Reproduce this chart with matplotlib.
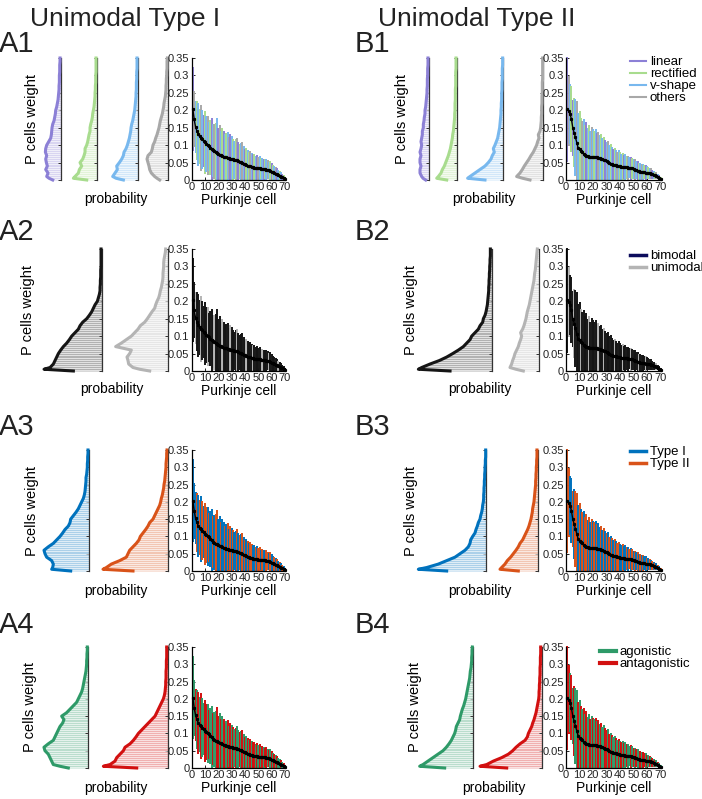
import numpy as np
import matplotlib
matplotlib.use("Agg")
import matplotlib.pyplot as plt
from matplotlib.lines import Line2D
from matplotlib.ticker import FormatStrFormatter

plt.rcParams['font.family'] = ['Liberation Sans', 'DejaVu Sans']

# ---- data -------------------------------------------------------------
# weight bins of the probability histograms (P cells weight)
weight_bins = np.concatenate([[0.0, 0.005], np.arange(1, 36) / 100])

# histogram probabilities (x 1e-3), one value per weight bin
hist_A1_linear = [24, 35, 42, 38, 45, 40, 43, 45, 42, 46, 45, 42, 36, 30, 28, 27, 26, 24, 20, 18, 16, 15, 12,
                  10, 8, 7, 6, 5, 5, 4, 4, 4, 3, 3, 3, 2, 2]
hist_A1_rectified = [30, 70, 65, 55, 52, 45, 50, 42, 38, 35, 35, 30, 27, 25, 23, 20, 20, 18, 15, 13, 12, 10, 8,
                     7, 6, 5, 5, 4, 4, 3, 3, 3, 2, 2, 2, 2, 2]
hist_A1_vshape = [43, 65, 75, 68, 61, 63, 55, 48, 43, 41, 35, 31, 28, 25, 23, 21, 20, 18, 15, 13, 11, 9, 8,
                  7, 6, 5, 5, 4, 4, 4, 3, 3, 3, 2, 2, 2, 2]
hist_A1_others = [25, 33, 40, 50, 55, 57, 60, 63, 60, 50, 47, 45, 40, 37, 33, 30, 27, 25, 23, 20, 17, 15, 13,
                  12, 10, 8, 7, 6, 6, 5, 5, 4, 4, 3, 3, 3, 2]
hist_A2_bimodal = [85, 173, 155, 145, 140, 135, 130, 123, 115, 105, 97, 90, 80, 70, 65, 57, 45, 37, 30, 25, 20, 13, 10,
                   7, 5, 5, 4, 4, 3, 3, 3, 2, 2, 2, 2, 2, 2]
hist_A2_unimodal = [55, 85, 105, 118, 120, 123, 115, 110, 157, 140, 125, 110, 100, 90, 83, 70, 62, 55, 48, 40, 37, 33, 28,
                    25, 23, 20, 18, 16, 15, 15, 14, 13, 13, 12, 10, 8, 7]
hist_A3_type1 = [55, 112, 109, 107, 112, 127, 132, 135, 122, 107, 97, 87, 79, 72, 62, 57, 55, 47, 39, 32, 27, 22, 17,
                 14, 12, 11, 10, 9, 9, 7, 6, 5, 5, 4, 4, 3, 3]
hist_A3_type2 = [105, 195, 185, 170, 145, 125, 120, 115, 105, 95, 87, 83, 75, 67, 60, 55, 45, 40, 35, 30, 25, 22, 20,
                 17, 15, 13, 12, 10, 9, 8, 7, 6, 6, 5, 4, 4, 3]
hist_A4_agon = [60, 85, 105, 110, 115, 120, 130, 133, 120, 105, 100, 95, 90, 85, 77, 73, 80, 65, 55, 45, 35, 30, 25,
                20, 17, 15, 13, 11, 9, 7, 6, 5, 5, 4, 4, 3, 3]
hist_A4_antag = [93, 193, 173, 158, 153, 143, 133, 128, 113, 103, 95, 88, 78, 68, 58, 48, 38, 33, 28, 23, 18, 13, 10,
                 8, 7, 6, 6, 5, 5, 5, 4, 4, 4, 3, 3, 3, 3]

hist_B1_linear = [10, 18, 22, 27, 27, 24, 27, 27, 24, 27, 24, 22, 24, 22, 20, 20, 17, 17, 15, 14, 12, 12, 10,
                  9, 8, 7, 6, 6, 5, 5, 5, 4, 4, 4, 3, 3, 3]
hist_B1_rectified = [30, 60, 55, 47, 43, 37, 33, 29, 25, 22, 19, 17, 15, 13, 12, 10, 9, 8, 7, 6, 6, 5, 5,
                     5, 4, 4, 4, 4, 3, 3, 3, 3, 3, 2, 2, 2, 2]
hist_B1_vshape = [55, 107, 100, 85, 70, 55, 45, 37, 33, 27, 30, 25, 21, 17, 15, 13, 11, 10, 9, 8, 7, 7, 6,
                  6, 5, 5, 5, 4, 4, 4, 3, 3, 3, 3, 2, 2, 2]
hist_B1_others = [40, 62, 80, 70, 63, 57, 50, 43, 37, 30, 25, 20, 17, 13, 15, 10, 8, 7, 6, 6, 5, 5, 5,
                  4, 4, 4, 3, 3, 3, 3, 2, 2, 2, 2, 2, 2, 2]
hist_B2_bimodal = [125, 220, 210, 185, 157, 135, 117, 100, 85, 75, 65, 60, 50, 40, 35, 27, 25, 20, 17, 15, 13, 12, 11,
                   10, 9, 9, 8, 8, 7, 7, 6, 6, 5, 5, 4, 4, 4]
hist_B2_unimodal = [48, 70, 88, 83, 80, 76, 73, 68, 63, 60, 56, 53, 56, 50, 46, 43, 40, 38, 36, 33, 30, 28, 26,
                    24, 22, 20, 18, 16, 15, 14, 12, 11, 10, 9, 8, 7, 6]
hist_B3_type1 = [118, 203, 178, 143, 118, 93, 78, 63, 53, 48, 46, 40, 33, 30, 26, 23, 18, 16, 13, 11, 10, 8, 7,
                 7, 6, 6, 5, 5, 4, 4, 3, 3, 2, 2, 1, 1, 1]
hist_B3_type2 = [60, 115, 110, 100, 93, 83, 75, 67, 60, 55, 47, 42, 37, 32, 28, 25, 22, 20, 18, 17, 15, 13, 12,
                 11, 10, 9, 8, 8, 7, 7, 6, 6, 5, 5, 4, 4, 4]
hist_B4_agon = [85, 160, 150, 135, 120, 105, 90, 80, 72, 65, 60, 55, 52, 50, 45, 40, 38, 35, 32, 28, 25, 22, 20,
                18, 16, 14, 12, 10, 9, 8, 6, 5, 4, 4, 3, 3, 2]
hist_B4_antag = [105, 185, 165, 145, 120, 100, 87, 77, 65, 50, 43, 40, 35, 30, 27, 23, 20, 17, 15, 13, 11, 9, 8,
                 8, 7, 7, 6, 6, 5, 5, 5, 4, 4, 4, 3, 3, 3]

# sorted mean weight per Purkinje cell and half-length of its bar
cells = np.arange(1, 71)
mean_A = [0.203, 0.174, 0.153, 0.141, 0.131, 0.125, 0.121, 0.117, 0.112, 0.108,
          0.104, 0.100, 0.097, 0.093, 0.089, 0.085, 0.082, 0.079, 0.077, 0.075,
          0.073, 0.071, 0.069, 0.067, 0.066, 0.065, 0.063, 0.062, 0.061, 0.060,
          0.059, 0.058, 0.057, 0.056, 0.054, 0.053, 0.051, 0.049, 0.047, 0.045,
          0.043, 0.041, 0.040, 0.039, 0.037, 0.036, 0.035, 0.034, 0.034, 0.033,
          0.033, 0.032, 0.032, 0.031, 0.031, 0.030, 0.029, 0.028, 0.026, 0.024,
          0.022, 0.020, 0.018, 0.016, 0.014, 0.012, 0.010, 0.008, 0.006, 0.004]
spread_A = [0.120, 0.080, 0.075, 0.085, 0.090, 0.080, 0.095, 0.085, 0.075, 0.090,
            0.080, 0.085, 0.070, 0.080, 0.090, 0.075, 0.080, 0.085, 0.100, 0.075,
            0.085, 0.070, 0.080, 0.075, 0.065, 0.070, 0.075, 0.060, 0.070, 0.065,
            0.060, 0.055, 0.060, 0.065, 0.055, 0.050, 0.055, 0.060, 0.050, 0.045,
            0.050, 0.045, 0.040, 0.045, 0.040, 0.038, 0.040, 0.035, 0.038, 0.033,
            0.035, 0.030, 0.032, 0.030, 0.028, 0.030, 0.027, 0.025, 0.028, 0.024,
            0.022, 0.020, 0.020, 0.018, 0.016, 0.014, 0.012, 0.010, 0.008, 0.006]
mean_B = [0.203, 0.198, 0.189, 0.175, 0.150, 0.136, 0.122, 0.107, 0.092, 0.088,
          0.084, 0.080, 0.075, 0.072, 0.070, 0.068, 0.067, 0.066, 0.066, 0.066,
          0.066, 0.066, 0.065, 0.064, 0.063, 0.061, 0.060, 0.058, 0.056, 0.054,
          0.052, 0.049, 0.047, 0.045, 0.044, 0.043, 0.042, 0.041, 0.040, 0.039,
          0.038, 0.038, 0.037, 0.036, 0.036, 0.035, 0.035, 0.034, 0.033, 0.031,
          0.029, 0.028, 0.027, 0.025, 0.024, 0.023, 0.022, 0.022, 0.021, 0.021,
          0.020, 0.019, 0.018, 0.016, 0.014, 0.013, 0.012, 0.010, 0.007, 0.004]
spread_B = [0.150, 0.100, 0.085, 0.095, 0.080, 0.100, 0.110, 0.120, 0.100, 0.110,
            0.095, 0.090, 0.100, 0.085, 0.095, 0.080, 0.090, 0.075, 0.085, 0.080,
            0.075, 0.080, 0.070, 0.075, 0.065, 0.070, 0.060, 0.065, 0.060, 0.055,
            0.060, 0.050, 0.055, 0.050, 0.045, 0.050, 0.045, 0.040, 0.045, 0.040,
            0.038, 0.040, 0.035, 0.038, 0.033, 0.035, 0.030, 0.033, 0.030, 0.028,
            0.030, 0.026, 0.028, 0.025, 0.024, 0.022, 0.024, 0.020, 0.022, 0.018,
            0.018, 0.016, 0.015, 0.014, 0.012, 0.011, 0.010, 0.008, 0.007, 0.005]

# class of each Purkinje cell (same order as the means)
cat_A1 = "LOVRVROVLR" "VOVRLVORVL" "OVRLVRVOLV" "RVROLRVOVL" "RVROVLRVLO" "VRVLRVOVRL" "RVOLVRVLRV"
cat_A2 = "BBUBBBUBBB" "BUBBBBUBBB" "BBUBBBBBUB" "BBBUBBBBBB" "UBBBBUBBBB" "BBUBBBBUBB" "BBBBUBBBBB"
cat_A3 = "1112121212" "2121121221" "1211212121" "2112121212" "1212211212" "2121122121" "1212121211"
cat_A4 = "aanananaan" "nanaanaann" "anannanana" "nanaananan" "ananannana" "nanannanan" "ananaanana"
cat_B1 = "LOVRLRVOVR" "ROVRLVRVOV" "RVLOVRVRLV" "OVRVLRVOVR" "VRLVROVLRV" "OVLRVOVRLV" "RVOLVROVLR"
cat_B2 = "BUBBBUBBBB" "UBBBBBUBBB" "BBBUBBBUBB" "BBBBBUBBBB" "BUBBBBBUBB" "BBBUBBBBUB" "BBBBBBUBBB"
cat_B3 = "2211212212" "1212212121" "2121121212" "1212121221" "1211212121" "2121212112" "1212121212"
cat_B4 = "nnananaana" "nananaanan" "anananaann" "ananaanana" "nananaanan" "anaanannan" "ananananaa"

class_labels_1 = ["linear", "rectified", "v-shape", "others"]
class_labels_2 = ["bimodal", "unimodal"]
class_labels_3 = ["Type I", "Type II"]
class_labels_4 = ["agonistic", "antagonistic"]

# ---- style ------------------------------------------------------------
col = {"L": "#8c80d6", "R": "#a8dc8e", "V": "#78b8ee", "O": "#a8a8a8",
       "B": "#151515", "U": "#b4b4b4",
       "1": "#0072bd", "2": "#d95319",
       "a": "#2e9a68", "n": "#d21010"}
legend_navy = "#0c0c5c"

W, H = 702, 799
HIST_W = 80                      # px reserved left of each histogram line
HIST_XMAX = HIST_W * 3 / 1000.0  # probability (x1e-3) per 1/3 px
row_y = [(58, 180), (249, 371), (450, 571), (647, 768)]
main_x = {"A": (191.5, 285), "B": (566, 660.5)}


def px_rect(left, top, right, bottom):
    return [left / W, 1 - bottom / H, (right - left) / W, (bottom - top) / H]


def draw_hist(fig, line_x, top, bottom, vals, color):
    ax = fig.add_axes(px_rect(line_x - HIST_W, top, line_x, bottom))
    ax.patch.set_visible(False)
    p = np.array(vals) / 1000.0
    fill = ax.fill_betweenx(weight_bins, 0, p, color=color, alpha=0.33, lw=0, zorder=1)
    stripes = ax.hlines(np.arange(0.0025, 0.35, 0.006), 0, HIST_XMAX, color="white", lw=0.45, zorder=2)
    stripes.set_clip_path(fill.get_paths()[0], ax.transData)
    ax.plot(p, weight_bins, color=color, lw=2.2, solid_joinstyle="round", zorder=3, clip_on=False)
    ax.set_xlim(HIST_XMAX, 0)
    ax.set_ylim(0, 0.35)
    for s in ["top", "left", "bottom"]:
        ax.spines[s].set_visible(False)
    ax.spines["right"].set_color("#333333")
    ax.spines["right"].set_linewidth(0.9)
    ax.set_xticks([])
    ax.yaxis.tick_right()
    ax.set_yticks(np.arange(0, 0.36, 0.05))
    ax.tick_params(axis="y", direction="in", length=2.5, width=0.7, labelright=False, colors="#333333")


def draw_main(fig, column, row, mean, spread, cats):
    top, bottom = row_y[row]
    left, right = main_x[column]
    ax = fig.add_axes(px_rect(left, top, right, bottom))
    mean = np.array(mean)
    spread = np.array(spread)
    lo = np.clip(mean - spread, 0, None)
    hi = mean + spread
    ax.vlines(cells, lo, hi, colors=[col[c] for c in cats], lw=1.4, clip_on=False)
    ax.plot(cells, mean, color="k", lw=1.0, marker="s", ms=1.3, clip_on=False)
    ax.set_xlim(0, 70)
    ax.set_ylim(0, 0.35)
    ax.set_xticks(np.arange(0, 71, 10))
    ax.set_yticks(np.arange(0, 0.36, 0.05))
    ax.yaxis.set_major_formatter(FormatStrFormatter("%g"))
    ax.spines["top"].set_visible(False)
    ax.spines["right"].set_visible(False)
    for s in ["left", "bottom"]:
        ax.spines[s].set_linewidth(0.9)
    ax.tick_params(direction="in", length=2.5, width=0.7, labelsize=8, pad=1.5, colors="#222222")
    ax.set_xlabel("Purkinje cell", fontsize=10, labelpad=1)
    return ax


fig = plt.figure(figsize=(W / 100, H / 100), dpi=100)

fig.text(125 / W, 1 - 26 / H, "Unimodal Type I", ha="center", va="baseline", fontsize=19, color="#222222")
fig.text(477 / W, 1 - 26 / H, "Unimodal Type II", ha="center", va="baseline", fontsize=19, color="#222222")

panels = [
    # column, row, histogram lines, categories, mean, spread, legend
    ("A", 0, [(60.7, hist_A1_linear, col["L"]), (96.7, hist_A1_rectified, col["R"]),
              (137.7, hist_A1_vshape, col["V"]), (168, hist_A1_others, col["O"])], cat_A1, mean_A, spread_A, None),
    ("A", 1, [(101.7, hist_A2_bimodal, col["B"]), (168, hist_A2_unimodal, col["U"])], cat_A2, mean_A, spread_A, None),
    ("A", 2, [(89, hist_A3_type1, col["1"]), (168, hist_A3_type2, col["2"])], cat_A3, mean_A, spread_A, None),
    ("A", 3, [(88.3, hist_A4_agon, col["a"]), (167.7, hist_A4_antag, col["n"])], cat_A4, mean_A, spread_A, None),
    ("B", 0, [(429, hist_B1_linear, col["L"]), (456.7, hist_B1_rectified, col["R"]),
              (503.3, hist_B1_vshape, col["V"]), (543.3, hist_B1_others, col["O"])], cat_B1, mean_B, spread_B,
     (class_labels_1, [col["L"], col["R"], col["V"], col["O"]], 1.5, 630, 56)),
    ("B", 1, [(491.7, hist_B2_bimodal, col["B"]), (539.3, hist_B2_unimodal, col["U"])], cat_B2, mean_B, spread_B,
     (class_labels_2, [legend_navy, col["U"]], 2.5, 630, 250)),
    ("B", 2, [(486, hist_B3_type1, col["1"]), (538.3, hist_B3_type2, col["2"])], cat_B3, mean_B, spread_B,
     (class_labels_3, [col["1"], col["2"]], 2.5, 630, 446)),
    ("B", 3, [(473, hist_B4_agon, col["a"]), (541.7, hist_B4_antag, col["n"])], cat_B4, mean_B, spread_B,
     (class_labels_4, [col["a"], col["n"]], 3.0, 600, 646)),
]

label_base = [52, 240, 435, 633]
ylabel_x = {"A": [32, 28, 32, 30], "B": [402, 411, 411, 415]}
prob_x = {"A": [116, 112, 116, 116], "B": [484, 480, 480, 494]}
prob_y = [199, 389, 591, 788]

for column, row, hists, cats, mean, spread, legend in panels:
    top, bottom = row_y[row]
    for line_x, vals, c in hists:
        draw_hist(fig, line_x, top, bottom, vals, c)
    ax = draw_main(fig, column, row, mean, spread, cats)

    lab_x = -1 if column == "A" else 355
    fig.text(lab_x / W, 1 - label_base[row] / H, f"{column}{row + 1}", fontsize=21,
             va="baseline", ha="left", color="#222222")
    fig.text(ylabel_x[column][row] / W, 1 - (top + bottom) / 2 / H, "P cells weight",
             rotation=90, ha="center", va="center", fontsize=10.5)
    fig.text(prob_x[column][row] / W, 1 - prob_y[row] / H, "probability",
             ha="center", va="center", fontsize=10)

    if legend is not None:
        names, lcols, lw, lx, ly = legend
        handles = [Line2D([], [], color=c, lw=lw) for c in lcols]
        ax.legend(handles, names, loc="upper left", bbox_to_anchor=(lx / W, 1 - ly / H),
                  bbox_transform=fig.transFigure, frameon=False, fontsize=9.5,
                  handlelength=1.2, handletextpad=0.3, labelspacing=-0.02,
                  borderaxespad=0, borderpad=0)

fig.savefig("out.png", dpi=100)
